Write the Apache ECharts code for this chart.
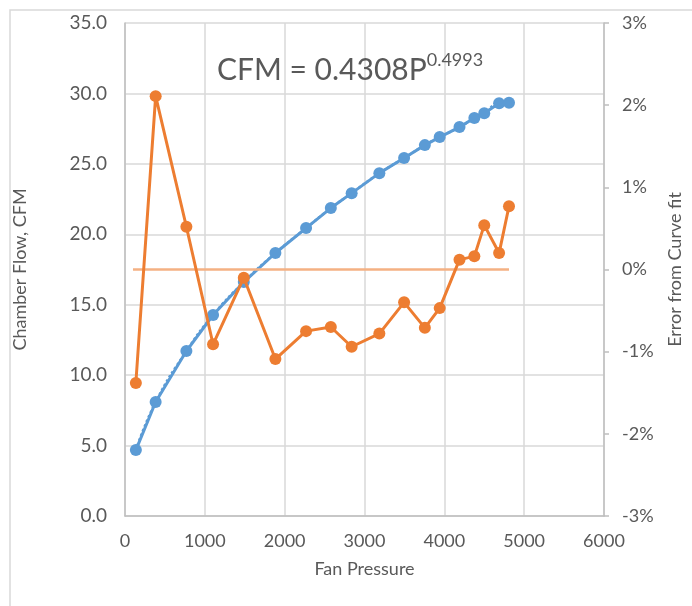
<!DOCTYPE html>
<html><head><meta charset="utf-8">
<script src="https://cdn.jsdelivr.net/npm/echarts@6/dist/echarts.min.js"></script>
<style>html,body{margin:0;padding:0;background:#fff;}#c{width:692px;height:606px;}</style>
</head><body><div id="c"></div>
<script>
const pressure = [136, 384, 769, 1103, 1488, 1884, 2268, 2578, 2839, 3186, 3496, 3756, 3942, 4190, 4376, 4500, 4686, 4810];
const cfm = [4.68, 8.09, 11.71, 14.27, 16.61, 18.67, 20.44, 21.86, 22.92, 24.34, 25.41, 26.33, 26.90, 27.61, 28.25, 28.60, 29.31, 29.33];
const errorPct = [-1.38, 2.11, 0.52, -0.91, -0.10, -1.09, -0.75, -0.70, -0.94, -0.78, -0.40, -0.71, -0.47, 0.12, 0.16, 0.54, 0.20, 0.77];
const zeroLineX = [100, 4810];
const zeroLineY = [0, 0];
const titleMain = 'CFM = 0.4308P';
const titleExp = '0.4993';

const font = 'Lato';
const txt = '#595959';
const chart = echarts.init(document.getElementById('c'));
const pair = (xs, ys) => xs.map((x, i) => [x, ys[i]]);

chart.setOption({
  animation: false,
  textStyle: { fontFamily: font },
  title: {
    text: '{a|' + titleMain + '}{b|' + titleExp + '}',
    left: 212, top: 44,
    textStyle: {
      fontWeight: 'normal',
      rich: {
        a: { fontFamily: font, fontSize: 30, fontWeight: 'normal', color: txt, lineHeight: 36, verticalAlign: 'bottom' },
        b: { fontFamily: font, fontSize: 18, fontWeight: 'normal', color: txt, lineHeight: 36, verticalAlign: 'top', padding: [2, 0, 0, 0] }
      }
    }
  },
  graphic: [{
    type: 'rect', shape: { x: 10, y: 10, width: 800, height: 800 },
    style: { fill: 'none', stroke: '#d9d9d9', lineWidth: 1.5 }, silent: true, z: -10
  }],
  grid: { left: 125, right: 83, top: 23, bottom: 90, containLabel: false },
  xAxis: {
    type: 'value', min: 0, max: 6000, interval: 1000,
    name: 'Fan Pressure', nameLocation: 'middle', nameGap: 44,
    nameTextStyle: { fontSize: 18, color: txt, fontFamily: font },
    axisLine: { show: true, lineStyle: { color: '#bfbfbf', width: 1.5 } },
    axisTick: { show: false },
    axisLabel: { fontSize: 18, color: txt, margin: 16, fontFamily: font, formatter: v => String(v) },
    splitLine: { show: true, lineStyle: { color: '#d9d9d9', width: 1.5 } }
  },
  yAxis: [{
    type: 'value', min: 0, max: 35, interval: 5,
    name: 'Chamber Flow, CFM', nameLocation: 'middle', nameGap: 96,
    nameTextStyle: { fontSize: 18, color: txt, fontFamily: font },
    axisLine: { show: true, lineStyle: { color: '#bfbfbf', width: 1.5 } },
    axisTick: { show: false },
    axisLabel: { fontSize: 19, color: txt, margin: 18, fontFamily: font, formatter: v => v.toFixed(1) },
    splitLine: { show: true, lineStyle: { color: '#d9d9d9', width: 1.5 } }
  }, {
    type: 'value', min: -3, max: 3, interval: 1, position: 'right',
    name: 'Error from Curve fit', nameLocation: 'middle', nameGap: 62, nameRotate: 90,
    nameTextStyle: { fontSize: 18, color: txt, fontFamily: font },
    axisLine: { show: true, lineStyle: { color: '#bfbfbf', width: 1.5 } },
    axisTick: { show: true, length: 5, lineStyle: { color: '#bfbfbf', width: 1.5 } },
    axisLabel: { fontSize: 18, color: txt, margin: 18, fontFamily: font, formatter: v => v + '%' },
    splitLine: { show: false }
  }],
  series: [{
    type: 'line', data: pair(pressure, cfm), smooth: true, symbol: 'none',
    lineStyle: { color: '#5B9BD5', width: 2.5, type: 'dotted' }, z: 1
  }, {
    type: 'line', data: pair(pressure, cfm), symbol: 'circle', symbolSize: 12,
    itemStyle: { color: '#5B9BD5' }, lineStyle: { color: '#5B9BD5', width: 3 }, z: 2
  }, {
    type: 'line', yAxisIndex: 1, data: pair(zeroLineX, zeroLineY), symbol: 'none',
    lineStyle: { color: '#F4B183', width: 2.5 }, z: 3
  }, {
    type: 'line', yAxisIndex: 1, data: pair(pressure, errorPct), symbol: 'circle', symbolSize: 12,
    itemStyle: { color: '#ED7D31' }, lineStyle: { color: '#ED7D31', width: 3 }, z: 4
  }]
});
</script></body></html>
